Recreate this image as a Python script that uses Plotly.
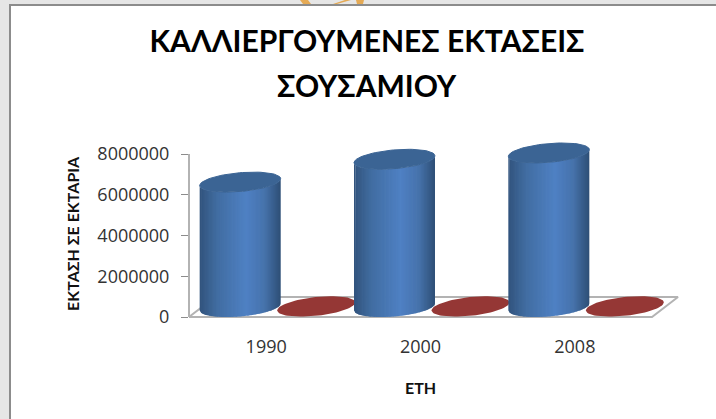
import numpy as np
import plotly.graph_objects as go

years = ["1990", "2000", "2008"]
area_blue = [6130000, 7250000, 7560000]
area_red = [30000, 30000, 30000]
y_ticks = [0, 2000000, 4000000, 6000000, 8000000]

W, H = 716, 419
L, R, T, B = 189, 30, 130, 99
X0_PX, X3_PX = 189, 652      # front floor edge, left and right
Y0_PX, Y8_PX = 317, 154      # pixel rows of 0 and of 8000000
px_x = (X3_PX - X0_PX) / 3
px_y = (Y0_PX - Y8_PX) / 8000000
x_range = [-0.5, -0.5 + (W - R - L) / px_x]
y_range = [-(H - B - Y0_PX) / px_y, (Y0_PX - T) / px_y]

DEPTH_X, DEPTH_Y = 26, 20
A, BB, K = 40.5, 9.4, 3.4
OFFSET = 38 / px_x
SHIFT_X = 12

def paper_x(p):
    return (p - L) / (W - L - R)

def paper_y(p):
    return 1 - (p - T) / (H - T - B)

def to_xy(cat, val, dx, dy):
    return cat + dx / px_x, val - dy / px_y

def ellipse(cat, val, a=A, b=BB, k=K):
    t = np.linspace(0, 2 * np.pi, 80)
    dx = SHIFT_X + a * np.cos(t)
    dy = -DEPTH_Y / 2 + b * np.sin(t) - k * np.cos(t)
    return to_xy(cat, val, dx, dy)

def shade(u):
    stops = [(-1, (50, 84, 125)), (-0.55, (66, 110, 163)), (0.15, (79, 129, 196)),
             (0.6, (70, 115, 172)), (1, (47, 79, 118))]
    xs = [s[0] for s in stops]
    c = [np.interp(u, xs, [s[1][i] for s in stops]) for i in range(3)]
    return "rgb(%d,%d,%d)" % tuple(c)

fig = go.Figure()

# floor of the 3D plot
fx = [-.5, 2.5, 2.5, -.5, -.5]
fdx = [0, 0, DEPTH_X, DEPTH_X, 0]
fdy = [0, 0, -DEPTH_Y, -DEPTH_Y, 0]
fig.add_trace(go.Scatter(
    x=[a + b / px_x for a, b in zip(fx, fdx)],
    y=[-b / px_y for b in fdy],
    mode="lines", line=dict(color="#b3b3b3", width=2),
    hoverinfo="skip", showlegend=False))

N = 60
edges = np.linspace(-A, A, N + 1)
for i, year in enumerate(years):
    rx, ry = ellipse(i + OFFSET, area_red[i], a=39, k=4.0)
    fig.add_trace(go.Scatter(x=rx, y=ry, mode="lines", fill="toself", fillcolor="#953735",
                             line=dict(width=0, color="#953735"),
                             name=year, showlegend=False))
for i, year in enumerate(years):
    cat = i - OFFSET
    val = area_blue[i]
    for e0, e1 in zip(edges[:-1], edges[1:]):
        dxs = np.linspace(e0, min(e1 + 0.8, A), 4)
        lo = BB * np.sqrt(np.clip(1 - (dxs / A) ** 2, 0, 1)) - K * dxs / A - DEPTH_Y / 2
        px = np.concatenate([dxs, dxs[::-1]]) + SHIFT_X
        py_vals = np.concatenate([np.zeros(4), np.full(4, val)])
        py_off = np.concatenate([lo, lo[::-1]])
        xs, ys = to_xy(cat, py_vals, px, py_off)
        col = shade((e0 + e1) / 2 / A)
        fig.add_trace(go.Scatter(x=xs, y=ys, mode="lines", fill="toself", fillcolor=col,
                                 line=dict(width=0, color=col),
                                 hoverinfo="skip", showlegend=False))
    cx, cy = ellipse(cat, val)
    fig.add_trace(go.Scatter(x=cx, y=cy, mode="lines", fill="toself", fillcolor="#3b6494",
                             line=dict(width=1, color="#3b6494"),
                             name=year, showlegend=False))

title_font = dict(family="Lato, sans-serif", size=30, color="#000", weight="bold")
axis_font = dict(family="Lato, sans-serif", size=16, color="#111", weight="bold")
tick_font = dict(family="Open Sans", size=18, color="#333")

def orange(x0, x1, x2, x3):
    return dict(type="path", xref="paper", yref="paper", layer="below",
                path="M %f,%f L %f,%f L %f,%f L %f,%f Z" % (
                    paper_x(x0), paper_y(0), paper_x(x1), paper_y(0),
                    paper_x(x2), paper_y(4), paper_x(x3), paper_y(4)),
                fillcolor="#e5aa55", line=dict(width=0))

fig.update_layout(
    width=W, height=H, margin=dict(l=L, r=R, t=T, b=B, pad=0),
    paper_bgcolor="#e6e6e6", plot_bgcolor="rgba(0,0,0,0)", showlegend=False,
    font=dict(family="Lato, sans-serif", color="#222"),
    title=dict(text="ΚΑΛΛΙΕΡΓΟΥΜΕΝΕΣ ΕΚΤΑΣΕΙΣ", x=367 / W, xanchor="center",
               y=1 - 41.5 / H, yanchor="middle", font=title_font),
    annotations=[
        dict(text="ΣΟΥΣΑΜΙΟΥ", xref="paper", yref="paper", x=paper_x(367), y=paper_y(84.5),
             xanchor="center", yanchor="middle", showarrow=False, font=title_font),
        dict(text="ΕΤΗ", xref="paper", yref="paper", x=paper_x(420), y=paper_y(387),
             xanchor="center", yanchor="middle", showarrow=False, font=axis_font),
        dict(text="ΕΚΤΑΣΗ ΣΕ ΕΚΤΑΡΙΑ", xref="paper", yref="paper", x=paper_x(72), y=paper_y(234),
             xanchor="center", yanchor="middle", showarrow=False, textangle=-90, font=axis_font),
    ],
    shapes=[
        dict(type="rect", xref="paper", yref="paper", layer="below",
             x0=paper_x(10), x1=paper_x(W + 40), y0=paper_y(H + 40), y1=paper_y(5),
             fillcolor="white", line=dict(color="#8c8c8c", width=2)),
        orange(300, 308, 311, 303), orange(345, 351, 337, 333), orange(356, 364, 363, 357),
        dict(type="line", xref="paper", yref="y", x0=0, x1=0, y0=0, y1=y_ticks[-1],
             line=dict(color="#b3b3b3", width=2)),
    ],
    xaxis=dict(range=x_range, tickmode="array", tickvals=[0, 1, 2], ticktext=years,
               showgrid=False, zeroline=False, showline=False, ticks="",
               ticklabelstandoff=14, tickfont=tick_font),
    yaxis=dict(range=y_range, tickmode="array", tickvals=y_ticks,
               ticktext=[str(v) for v in y_ticks], showgrid=False, zeroline=False,
               showline=False, ticks="outside", ticklen=7,
               tickcolor="#8c8c8c", ticklabelstandoff=8, tickfont=tick_font),
)
fig.write_html("out.html", config=dict(displayModeBar=False),
               post_script="document.body.style.margin='0';")
